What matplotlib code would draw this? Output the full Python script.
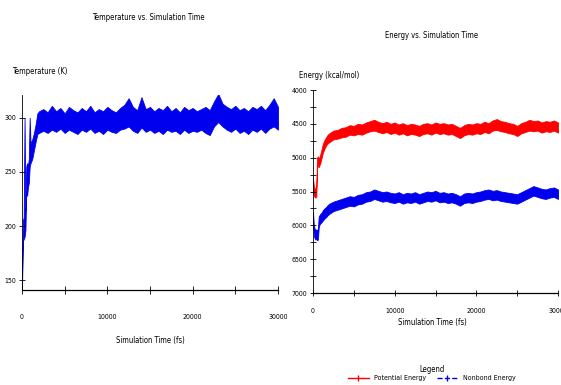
import numpy as np
import matplotlib
matplotlib.use("Agg")
import matplotlib.pyplot as plt
from matplotlib.lines import Line2D
from matplotlib.ticker import MultipleLocator

plt.rcParams['font.family'] = ['DejaVu Sans']
plt.rcParams['font.stretch'] = 'condensed'

# simulation time grid (fs)
time_fs = [0, 100, 200, 300, 400, 500, 600, 700, 800, 900, 1000, 1200, 1400, 1600, 1800, 2000,
           2500, 3000, 3500, 4000, 4500, 5000, 5500, 6000, 6500, 7000, 7500, 8000, 8500, 9000,
           9500, 10000, 10500, 11000, 11500, 12000, 12500, 13000, 13500, 14000, 14500, 15000,
           15500, 16000, 16500, 17000, 17500, 18000, 18500, 19000, 19500, 20000, 20500, 21000,
           21500, 22000, 22500, 23000, 23500, 24000, 24500, 25000, 25500, 26000, 26500, 27000,
           27500, 28000, 28500, 29000, 29500, 30000]

# temperature band (K), upper and lower edge of the noisy trace
temp_hi = [152, 205, 208, 300, 215, 255, 258, 256, 262, 300, 276, 280, 286, 294, 304, 306,
           308, 305, 311, 306, 309, 304, 310, 307, 305, 309, 306, 311, 305, 308,
           306, 310, 307, 305, 309, 312, 318, 310, 307, 319, 308, 310,
           306, 309, 307, 311, 306, 309, 305, 310, 307, 309, 306, 308,
           310, 307, 315, 322, 313, 310, 308, 311, 307, 309, 306, 310,
           308, 311, 307, 312, 318, 310]
temp_lo = [142, 186, 188, 190, 196, 232, 228, 236, 240, 255, 258, 262, 270, 278, 285, 286,
           288, 286, 289, 287, 290, 286, 289, 287, 285, 289, 287, 290, 286, 288,
           285, 289, 287, 286, 289, 290, 292, 288, 286, 291, 287, 289,
           286, 288, 285, 289, 287, 288, 285, 289, 286, 288, 287, 289,
           286, 284, 292, 296, 292, 289, 287, 290, 286, 288, 285, 289,
           287, 290, 286, 290, 292, 289]

# potential energy band (kcal/mol)
pot_hi = [-5300, -5420, -5450, -5460, -5440, -5000, -4980, -5010, -4990, -4950, -4900, -4800, -4740, -4700, -4660, -4640,
          -4600, -4590, -4560, -4550, -4520, -4530, -4500, -4510, -4480, -4460, -4440, -4470, -4490, -4470,
          -4500, -4480, -4510, -4490, -4520, -4500, -4510, -4530, -4500, -4490, -4510, -4480,
          -4500, -4490, -4510, -4500, -4530, -4560, -4520, -4500, -4510, -4490, -4500, -4470,
          -4490, -4450, -4430, -4460, -4470, -4490, -4500, -4530, -4490, -4470, -4440, -4460,
          -4450, -4480, -4460, -4470, -4450, -4480]
pot_lo = [-5500, -5560, -5580, -5590, -5580, -5120, -5130, -5140, -5110, -5080, -5030, -4930, -4870, -4820, -4790, -4770,
          -4730, -4720, -4700, -4690, -4660, -4670, -4650, -4660, -4630, -4610, -4600, -4620, -4640, -4620,
          -4650, -4630, -4660, -4640, -4670, -4650, -4660, -4680, -4650, -4640, -4660, -4630,
          -4650, -4640, -4660, -4650, -4680, -4710, -4670, -4650, -4660, -4640, -4650, -4620,
          -4640, -4600, -4590, -4610, -4620, -4640, -4650, -4680, -4640, -4620, -4600, -4610,
          -4600, -4630, -4610, -4620, -4600, -4630]

# nonbond energy band (kcal/mol)
nb_hi = [-5800, -6000, -6050, -6070, -6060, -6080, -6050, -5870, -5850, -5830, -5820, -5780, -5750, -5730, -5700, -5680,
         -5650, -5630, -5610, -5590, -5570, -5580, -5550, -5540, -5510, -5500, -5470, -5490, -5510, -5500,
         -5520, -5530, -5510, -5540, -5520, -5530, -5510, -5540, -5520, -5500, -5510, -5490,
         -5520, -5510, -5530, -5520, -5540, -5570, -5530, -5520, -5530, -5510, -5500, -5480,
         -5470, -5490, -5480, -5500, -5510, -5520, -5530, -5540, -5510, -5480, -5450, -5420,
         -5440, -5460, -5470, -5450, -5440, -5470]
nb_lo = [-5950, -6150, -6190, -6210, -6200, -6220, -6210, -6030, -5990, -5970, -5960, -5930, -5900, -5880, -5850, -5830,
         -5790, -5770, -5750, -5730, -5710, -5720, -5690, -5680, -5650, -5640, -5610, -5630, -5650, -5640,
         -5660, -5670, -5650, -5680, -5660, -5670, -5650, -5680, -5660, -5640, -5650, -5630,
         -5660, -5650, -5670, -5660, -5680, -5710, -5670, -5660, -5670, -5650, -5640, -5620,
         -5610, -5630, -5620, -5640, -5650, -5660, -5670, -5680, -5650, -5620, -5590, -5560,
         -5580, -5600, -5610, -5590, -5580, -5610]

x_ticks = [0, 10000, 20000, 30000]
temp_ticks = [150, 200, 250, 300]
energy_ticks = [-4000, -4500, -5000, -5500, -6000, -6500, -7000]
energy_labels = ['4000', '4500', '5000', '5500', '6000', '6500', '7000']

fig = plt.figure(figsize=(5.61, 3.85), dpi=100)
fs = 5.5
tfs = 5

# ---- temperature ----
ax1 = fig.add_axes([22/561, 1 - 290/385, 256/561, 195/385])
ax1.fill_between(time_fs, temp_lo, temp_hi, color='#0000ee', edgecolor='#0000ee', lw=0.6)
ax1.set_xlim(0, 30000)
ax1.set_ylim(141, 321)
ax1.set_xticks(x_ticks)
ax1.xaxis.set_minor_locator(MultipleLocator(5000))
ax1.set_yticks(temp_ticks)
ax1.tick_params(labelsize=tfs, direction='inout', length=4, width=0.6, pad=2)
ax1.tick_params(axis='x', which='both', pad=14, direction='inout', length=6, width=0.6)
for s in ['top', 'right']:
    ax1.spines[s].set_visible(False)
ax1.spines['left'].set_linewidth(0.6)
ax1.spines['bottom'].set_linewidth(0.9)
fig.text(148/561, 1 - 18/385, 'Temperature vs. Simulation Time', fontsize=fs, ha='center', va='center')
fig.text(12/561, 1 - 72/385, 'Temperature (K)', fontsize=fs, ha='left', va='center')
fig.text(150/561, 1 - 340/385, 'Simulation Time (fs)', fontsize=fs, ha='center', va='center')

# ---- energy ----
ax2 = fig.add_axes([313/561, 1 - 293/385, 245/561, 203/385])
ax2.fill_between(time_fs, pot_lo, pot_hi, color='#ff0000', edgecolor='#ff0000', lw=0.6)
ax2.fill_between(time_fs, nb_lo, nb_hi, color='#0000ee', edgecolor='#0000ee', lw=0.6)
ax2.set_xlim(0, 30000)
ax2.set_ylim(-7000, -4000)
ax2.set_xticks(x_ticks)
ax2.xaxis.set_minor_locator(MultipleLocator(5000))
ax2.set_yticks(energy_ticks)
ax2.set_yticklabels(energy_labels)
ax2.yaxis.set_minor_locator(MultipleLocator(250))
ax2.tick_params(which='both', labelsize=tfs, direction='inout', length=4, width=0.6, pad=2)
ax2.tick_params(axis='x', which='both', pad=9)
for s in ['top', 'right']:
    ax2.spines[s].set_visible(False)
ax2.spines['left'].set_linewidth(0.6)
ax2.spines['bottom'].set_linewidth(0.9)
fig.text(432/561, 1 - 35/385, 'Energy vs. Simulation Time', fontsize=fs, ha='center', va='center')
fig.text(299/561, 1 - 75/385, 'Energy (kcal/mol)', fontsize=fs, ha='left', va='center')
fig.text(432/561, 1 - 323/385, 'Simulation Time (fs)', fontsize=fs, ha='center', va='center')

handles = [Line2D([], [], color='#ff0000', marker='|', markersize=4, lw=1),
           Line2D([], [], color='#0000ee', ls='--', marker='|', markersize=4, lw=1)]
fig.legend(handles, ['Potential Energy', 'Nonbond Energy'], loc='center',
           bbox_to_anchor=(432/561, 1 - 373/385), ncol=2, frameon=False, fontsize=tfs,
           title='Legend', title_fontsize=fs, handlelength=3, columnspacing=1.5,
           handletextpad=0.8, borderpad=0, labelspacing=0.2)

fig.savefig('out.png', dpi=100)
